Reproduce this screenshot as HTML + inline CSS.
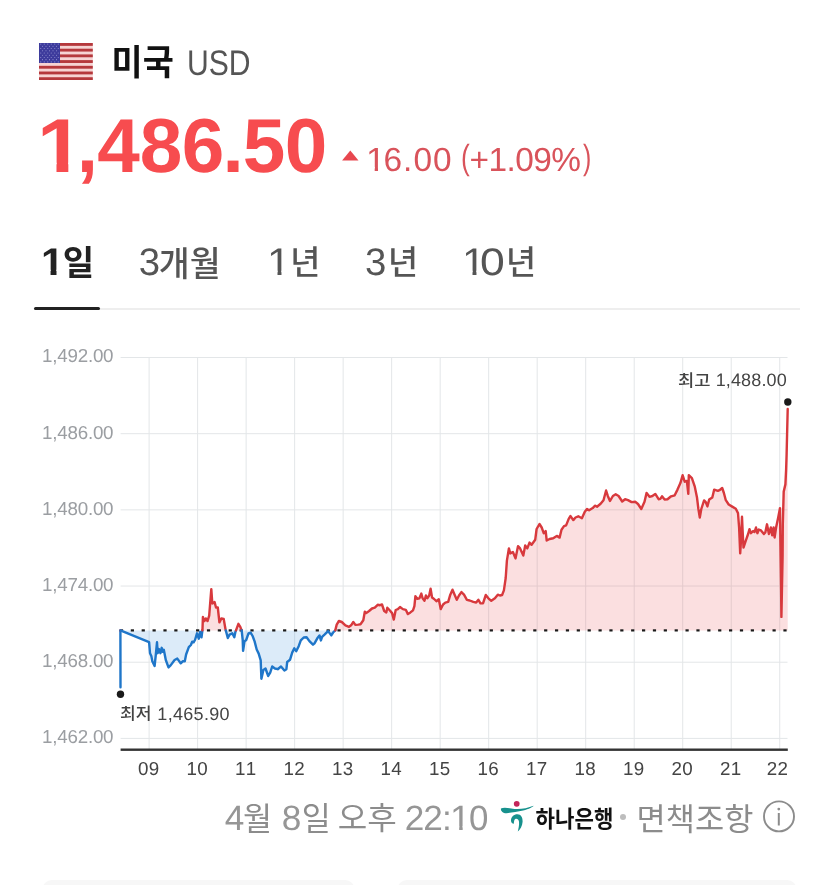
<!DOCTYPE html>
<html lang="ko"><head><meta charset="utf-8"><title>USD</title>
<style>
html,body{margin:0;padding:0;background:#fff}
body{width:835px;height:885px;position:relative;overflow:hidden;font-family:"Liberation Sans",sans-serif}
.abs{position:absolute;display:block}
.t{position:absolute;white-space:nowrap;line-height:1;text-rendering:geometricPrecision;font-kerning:none;transform-origin:0 50%;font-family:"Liberation Sans",sans-serif}
.xl{text-align:center}
.k{color:transparent;overflow:hidden}
#root{position:absolute;left:0;top:0;width:835px;height:885px;will-change:transform}
</style></head><body><div id="root">
<svg class="abs" style="left:39.4px;top:42.5px" width="53.8" height="37.1" viewBox="0 0 53.8 37.1"><rect width="53.8" height="37.1" fill="#f6d3d3"/><rect y="0.000" width="53.8" height="2.854" fill="#b5383c"/><rect y="5.708" width="53.8" height="2.854" fill="#b5383c"/><rect y="11.415" width="53.8" height="2.854" fill="#b5383c"/><rect y="17.123" width="53.8" height="2.854" fill="#b5383c"/><rect y="22.831" width="53.8" height="2.854" fill="#b5383c"/><rect y="28.538" width="53.8" height="2.854" fill="#b5383c"/><rect y="34.246" width="53.8" height="2.854" fill="#b5383c"/><rect width="21" height="19.977" fill="#3d3b9c"/><circle cx="1.75" cy="1.10" r="0.55" fill="#8f8fd0"/><circle cx="5.25" cy="1.10" r="0.55" fill="#8f8fd0"/><circle cx="8.75" cy="1.10" r="0.55" fill="#8f8fd0"/><circle cx="12.25" cy="1.10" r="0.55" fill="#8f8fd0"/><circle cx="15.75" cy="1.10" r="0.55" fill="#8f8fd0"/><circle cx="19.25" cy="1.10" r="0.55" fill="#8f8fd0"/><circle cx="3.50" cy="3.32" r="0.55" fill="#8f8fd0"/><circle cx="7.00" cy="3.32" r="0.55" fill="#8f8fd0"/><circle cx="10.50" cy="3.32" r="0.55" fill="#8f8fd0"/><circle cx="14.00" cy="3.32" r="0.55" fill="#8f8fd0"/><circle cx="17.50" cy="3.32" r="0.55" fill="#8f8fd0"/><circle cx="1.75" cy="5.54" r="0.55" fill="#8f8fd0"/><circle cx="5.25" cy="5.54" r="0.55" fill="#8f8fd0"/><circle cx="8.75" cy="5.54" r="0.55" fill="#8f8fd0"/><circle cx="12.25" cy="5.54" r="0.55" fill="#8f8fd0"/><circle cx="15.75" cy="5.54" r="0.55" fill="#8f8fd0"/><circle cx="19.25" cy="5.54" r="0.55" fill="#8f8fd0"/><circle cx="3.50" cy="7.77" r="0.55" fill="#8f8fd0"/><circle cx="7.00" cy="7.77" r="0.55" fill="#8f8fd0"/><circle cx="10.50" cy="7.77" r="0.55" fill="#8f8fd0"/><circle cx="14.00" cy="7.77" r="0.55" fill="#8f8fd0"/><circle cx="17.50" cy="7.77" r="0.55" fill="#8f8fd0"/><circle cx="1.75" cy="9.99" r="0.55" fill="#8f8fd0"/><circle cx="5.25" cy="9.99" r="0.55" fill="#8f8fd0"/><circle cx="8.75" cy="9.99" r="0.55" fill="#8f8fd0"/><circle cx="12.25" cy="9.99" r="0.55" fill="#8f8fd0"/><circle cx="15.75" cy="9.99" r="0.55" fill="#8f8fd0"/><circle cx="19.25" cy="9.99" r="0.55" fill="#8f8fd0"/><circle cx="3.50" cy="12.21" r="0.55" fill="#8f8fd0"/><circle cx="7.00" cy="12.21" r="0.55" fill="#8f8fd0"/><circle cx="10.50" cy="12.21" r="0.55" fill="#8f8fd0"/><circle cx="14.00" cy="12.21" r="0.55" fill="#8f8fd0"/><circle cx="17.50" cy="12.21" r="0.55" fill="#8f8fd0"/><circle cx="1.75" cy="14.43" r="0.55" fill="#8f8fd0"/><circle cx="5.25" cy="14.43" r="0.55" fill="#8f8fd0"/><circle cx="8.75" cy="14.43" r="0.55" fill="#8f8fd0"/><circle cx="12.25" cy="14.43" r="0.55" fill="#8f8fd0"/><circle cx="15.75" cy="14.43" r="0.55" fill="#8f8fd0"/><circle cx="19.25" cy="14.43" r="0.55" fill="#8f8fd0"/><circle cx="3.50" cy="16.65" r="0.55" fill="#8f8fd0"/><circle cx="7.00" cy="16.65" r="0.55" fill="#8f8fd0"/><circle cx="10.50" cy="16.65" r="0.55" fill="#8f8fd0"/><circle cx="14.00" cy="16.65" r="0.55" fill="#8f8fd0"/><circle cx="17.50" cy="16.65" r="0.55" fill="#8f8fd0"/><circle cx="1.75" cy="18.88" r="0.55" fill="#8f8fd0"/><circle cx="5.25" cy="18.88" r="0.55" fill="#8f8fd0"/><circle cx="8.75" cy="18.88" r="0.55" fill="#8f8fd0"/><circle cx="12.25" cy="18.88" r="0.55" fill="#8f8fd0"/><circle cx="15.75" cy="18.88" r="0.55" fill="#8f8fd0"/><circle cx="19.25" cy="18.88" r="0.55" fill="#8f8fd0"/></svg>
<div class="t" style="left:187.27px;top:46.00px;font-size:35.6px;color:#555;font-weight:400;transform:scaleX(0.8471);">USD</div>
<div class="t" style="left:36.58px;top:109.00px;font-size:76.5px;color:#f74c4f;font-weight:700;clip-path:polygon(0 0,29.08px 0,29.08px 53.80px,28.48px 53.80px,28.48px 100%,17.72px 100%,17.72px 53.80px,0 53.80px);transform:scaleX(1.1000);">1</div>
<div class="t" style="left:76.64px;top:109.00px;font-size:76.5px;color:#f74c4f;font-weight:700;">,</div>
<div class="t" style="left:97.30px;top:109.00px;font-size:76.5px;color:#f74c4f;font-weight:700;">4</div>
<div class="t" style="left:139.64px;top:109.00px;font-size:76.5px;color:#f74c4f;font-weight:700;">8</div>
<div class="t" style="left:181.86px;top:109.00px;font-size:76.5px;color:#f74c4f;font-weight:700;">6</div>
<div class="t" style="left:222.51px;top:109.00px;font-size:76.5px;color:#f74c4f;font-weight:700;">.</div>
<div class="t" style="left:242.82px;top:109.00px;font-size:76.5px;color:#f74c4f;font-weight:700;">5</div>
<div class="t" style="left:284.63px;top:109.00px;font-size:76.5px;color:#f74c4f;font-weight:700;">0</div>
<svg class="abs" style="left:342px;top:150px" width="17" height="11" viewBox="0 0 17 11"><path d="M8.3 0.4 L16.5 10.5 L0.1 10.5 Z" fill="#e8474f"/></svg>
<div class="t" style="left:366.08px;top:144.00px;font-size:33.4px;color:#d9535b;font-weight:400;clip-path:polygon(0 0,12.06px 0,12.06px 23.10px,11.46px 23.10px,11.46px 100%,8.28px 100%,8.28px 23.10px,0 23.10px);transform:scaleX(1.0500);">1</div>
<div class="t" style="left:383.40px;top:144.00px;font-size:33.4px;color:#d9535b;font-weight:400;letter-spacing:1.098px;">6.00</div>
<div class="t" style="left:460.76px;top:140.00px;font-size:35px;color:#d9535b;font-weight:400;transform:scaleX(0.7543);">(</div>
<div class="t" style="left:469.57px;top:144.00px;font-size:33.4px;color:#d9535b;font-weight:400;letter-spacing:-0.558px;">+1.09%</div>
<div class="t" style="left:582.55px;top:140.00px;font-size:35px;color:#d9535b;font-weight:400;transform:scaleX(0.7112);">)</div>
<div class="t" style="left:40.61px;top:244.00px;font-size:38.4px;color:#222;font-weight:700;clip-path:polygon(0 0,14.95px 0,14.95px 25.68px,14.35px 25.68px,14.35px 100%,8.85px 100%,8.85px 25.68px,0 25.68px);transform:scaleX(1.0800);">1</div>
<div class="t" style="left:138.64px;top:244.00px;font-size:38.4px;color:#555;font-weight:400;">3</div>
<div class="t" style="left:266.74px;top:244.00px;font-size:38.4px;color:#555;font-weight:400;clip-path:polygon(0 0,13.76px 0,13.76px 26.72px,13.16px 26.72px,13.16px 100%,9.54px 100%,9.54px 26.72px,0 26.72px);transform:scaleX(1.1000);">1</div>
<div class="t" style="left:364.94px;top:244.00px;font-size:38.4px;color:#555;font-weight:400;">3</div>
<div class="t" style="left:461.94px;top:244.00px;font-size:38.4px;color:#555;font-weight:400;clip-path:polygon(0 0,13.76px 0,13.76px 26.72px,13.16px 26.72px,13.16px 100%,9.54px 100%,9.54px 26.72px,0 26.72px);transform:scaleX(1.1000);">1</div>
<div class="t" style="left:479.86px;top:244.00px;font-size:38.4px;color:#555;font-weight:400;transform:scaleX(1.1604);">0</div>
<div class="abs" style="left:34px;top:307.9px;width:766px;height:2px;background:#eeeeee"></div>
<div class="abs" style="left:34.4px;top:307.2px;width:65.4px;height:3px;background:#222;border-radius:1.5px"></div>
<div class="t" style="left:42.07px;top:347.00px;font-size:18.75px;color:#9b9ea2;font-weight:400;letter-spacing:-0.218px;">1,492.00</div>
<div class="t" style="left:42.07px;top:424.00px;font-size:18.75px;color:#9b9ea2;font-weight:400;letter-spacing:-0.218px;">1,486.00</div>
<div class="t" style="left:42.07px;top:500.00px;font-size:18.75px;color:#9b9ea2;font-weight:400;letter-spacing:-0.218px;">1,480.00</div>
<div class="t" style="left:42.07px;top:576.00px;font-size:18.75px;color:#9b9ea2;font-weight:400;letter-spacing:-0.218px;">1,474.00</div>
<div class="t" style="left:42.07px;top:652.00px;font-size:18.75px;color:#9b9ea2;font-weight:400;letter-spacing:-0.218px;">1,468.00</div>
<div class="t" style="left:42.07px;top:728.00px;font-size:18.75px;color:#9b9ea2;font-weight:400;letter-spacing:-0.218px;">1,462.00</div>
<div class="t xl" style="left:128.50px;top:760.00px;width:40px;font-size:18.75px;color:#444;letter-spacing:0.35px;text-indent:0.35px">09</div>
<div class="t xl" style="left:177.01px;top:760.00px;width:40px;font-size:18.75px;color:#444;letter-spacing:0.35px;text-indent:0.35px">10</div>
<div class="t xl" style="left:225.52px;top:760.00px;width:40px;font-size:18.75px;color:#444;letter-spacing:0.35px;text-indent:0.35px">11</div>
<div class="t xl" style="left:274.03px;top:760.00px;width:40px;font-size:18.75px;color:#444;letter-spacing:0.35px;text-indent:0.35px">12</div>
<div class="t xl" style="left:322.54px;top:760.00px;width:40px;font-size:18.75px;color:#444;letter-spacing:0.35px;text-indent:0.35px">13</div>
<div class="t xl" style="left:371.05px;top:760.00px;width:40px;font-size:18.75px;color:#444;letter-spacing:0.35px;text-indent:0.35px">14</div>
<div class="t xl" style="left:419.56px;top:760.00px;width:40px;font-size:18.75px;color:#444;letter-spacing:0.35px;text-indent:0.35px">15</div>
<div class="t xl" style="left:468.07px;top:760.00px;width:40px;font-size:18.75px;color:#444;letter-spacing:0.35px;text-indent:0.35px">16</div>
<div class="t xl" style="left:516.58px;top:760.00px;width:40px;font-size:18.75px;color:#444;letter-spacing:0.35px;text-indent:0.35px">17</div>
<div class="t xl" style="left:565.09px;top:760.00px;width:40px;font-size:18.75px;color:#444;letter-spacing:0.35px;text-indent:0.35px">18</div>
<div class="t xl" style="left:613.60px;top:760.00px;width:40px;font-size:18.75px;color:#444;letter-spacing:0.35px;text-indent:0.35px">19</div>
<div class="t xl" style="left:662.11px;top:760.00px;width:40px;font-size:18.75px;color:#444;letter-spacing:0.35px;text-indent:0.35px">20</div>
<div class="t xl" style="left:710.62px;top:760.00px;width:40px;font-size:18.75px;color:#444;letter-spacing:0.35px;text-indent:0.35px">21</div>
<div class="t xl" style="left:757.40px;top:760.00px;width:40px;font-size:18.75px;color:#444;letter-spacing:0.35px;text-indent:0.35px">22</div>
<svg class="abs" style="left:0;top:0" width="835" height="885" viewBox="0 0 835 885"><rect x="120.6" y="357.00" width="666.9" height="1" fill="#e3e6e8"/><rect x="120.6" y="433.18" width="666.9" height="1" fill="#e3e6e8"/><rect x="120.6" y="509.36" width="666.9" height="1" fill="#e3e6e8"/><rect x="120.6" y="585.54" width="666.9" height="1" fill="#e3e6e8"/><rect x="120.6" y="661.72" width="666.9" height="1" fill="#e3e6e8"/><rect x="120.6" y="737.90" width="666.9" height="1" fill="#e3e6e8"/><rect x="148.60" y="357.50" width="1" height="391.50" fill="#e3e6e8"/><rect x="197.11" y="357.50" width="1" height="391.50" fill="#e3e6e8"/><rect x="245.62" y="357.50" width="1" height="391.50" fill="#e3e6e8"/><rect x="294.13" y="357.50" width="1" height="391.50" fill="#e3e6e8"/><rect x="342.64" y="357.50" width="1" height="391.50" fill="#e3e6e8"/><rect x="391.15" y="357.50" width="1" height="391.50" fill="#e3e6e8"/><rect x="439.66" y="357.50" width="1" height="391.50" fill="#e3e6e8"/><rect x="488.17" y="357.50" width="1" height="391.50" fill="#e3e6e8"/><rect x="536.68" y="357.50" width="1" height="391.50" fill="#e3e6e8"/><rect x="585.19" y="357.50" width="1" height="391.50" fill="#e3e6e8"/><rect x="633.70" y="357.50" width="1" height="391.50" fill="#e3e6e8"/><rect x="682.21" y="357.50" width="1" height="391.50" fill="#e3e6e8"/><rect x="730.72" y="357.50" width="1" height="391.50" fill="#e3e6e8"/><rect x="779.23" y="357.50" width="1" height="391.50" fill="#e3e6e8"/><path d="M120.5 687.3 L120.4 630.4 L120.4 630.4 L120.5 630.4 Z" fill="#2f86dc" fill-opacity="0.17"/><path d="M120.4 630.4 L120.4 630.4 L120.4 630.4 L120.4 630.4 L120.4 630.4 Z" fill="#e8404a" fill-opacity="0.17"/><path d="M120.4 630.4 L149.1 642.1 L150.0 653.2 L151.3 655.9 L152.3 661.3 L154.6 666.0 L155.7 655.9 L157.0 642.3 L157.7 653.2 L159.0 649.1 L160.4 653.2 L161.7 647.8 L162.7 651.8 L163.8 649.8 L165.8 660.0 L168.5 667.4 L170.6 665.4 L174.6 660.0 L177.3 658.6 L180.7 663.3 L182.7 661.3 L184.8 661.3 L186.1 654.5 L188.8 647.1 L190.9 645.0 L192.2 641.7 L193.6 642.3 L195.0 640.0 L197.0 633.3 L198.8 638.7 L200.1 631.9 L201.5 637.3 L202.4 630.4 L202.4 630.4 L120.4 630.4 Z" fill="#2f86dc" fill-opacity="0.17"/><path d="M202.4 630.4 L202.5 629.2 L202.9 617.0 L204.5 621.1 L205.8 618.4 L207.5 621.1 L209.2 615.7 L211.3 589.2 L212.3 603.5 L214.6 602.1 L216.0 607.5 L217.8 607.5 L219.4 622.4 L221.4 618.4 L223.7 619.0 L225.5 629.2 L225.8 630.4 L225.8 630.4 L202.4 630.4 Z" fill="#e8404a" fill-opacity="0.17"/><path d="M225.8 630.4 L227.8 638.0 L229.6 634.6 L232.3 633.3 L234.3 637.3 L235.4 631.9 L236.0 630.4 L236.0 630.4 L225.8 630.4 Z" fill="#2f86dc" fill-opacity="0.17"/><path d="M236.0 630.4 L238.4 623.8 L240.4 627.2 L241.6 630.4 L241.6 630.4 L236.0 630.4 Z" fill="#e8404a" fill-opacity="0.17"/><path d="M241.6 630.4 L241.7 630.6 L242.7 640.0 L243.1 650.9 L244.5 641.4 L246.2 640.0 L248.5 633.3 L250.6 632.6 L252.6 636.0 L254.6 641.4 L256.7 649.5 L258.7 653.6 L260.7 660.4 L261.4 678.7 L263.4 669.9 L265.5 668.5 L268.2 676.0 L270.2 672.6 L272.2 666.5 L274.9 668.5 L277.7 669.2 L281.0 666.5 L284.4 670.5 L286.4 669.2 L287.2 662.0 L290.0 659.8 L292.2 652.6 L294.3 648.3 L296.2 651.2 L298.7 646.2 L300.8 640.4 L303.7 637.5 L306.6 637.3 L309.4 641.1 L313.0 644.7 L314.5 643.3 L317.3 638.3 L319.5 635.4 L320.9 640.4 L322.1 636.8 L324.5 634.7 L328.1 631.1 L331.3 635.4 L333.1 632.5 L335.3 630.4 L335.3 630.4 L241.6 630.4 Z" fill="#2f86dc" fill-opacity="0.17"/><path d="M335.3 630.4 L335.3 630.4 L336.7 624.6 L338.9 621.0 L341.8 622.0 L345.4 625.3 L349.0 626.8 L351.1 625.3 L353.3 622.0 L355.4 624.9 L358.3 624.6 L360.5 624.3 L363.3 620.3 L364.8 611.7 L366.2 613.1 L369.1 611.0 L372.0 608.5 L374.8 607.7 L377.7 604.8 L379.9 605.2 L382.0 604.5 L384.2 611.0 L386.3 612.4 L387.3 607.7 L389.9 610.5 L392.1 613.1 L393.8 619.6 L395.7 610.0 L397.9 609.1 L400.0 607.0 L402.9 609.1 L405.8 609.8 L407.9 614.1 L410.1 612.7 L413.0 610.3 L414.4 606.2 L415.4 596.2 L417.3 598.8 L419.4 598.3 L421.3 593.6 L422.6 598.3 L424.5 600.8 L425.9 595.5 L427.3 598.3 L429.2 595.5 L430.6 588.7 L432.1 597.6 L434.1 599.0 L436.4 601.2 L438.8 599.3 L440.7 609.1 L443.1 604.5 L445.3 602.6 L448.2 601.9 L450.3 594.7 L452.5 589.7 L454.6 594.7 L456.8 599.8 L459.0 595.5 L461.4 592.1 L464.0 594.7 L466.9 599.8 L469.7 600.5 L473.3 601.9 L476.2 602.6 L478.4 599.8 L480.5 603.4 L483.0 603.4 L485.8 595.0 L488.4 598.3 L491.3 600.8 L494.9 598.3 L497.8 594.7 L499.9 595.5 L502.1 595.0 L503.9 590.4 L505.7 578.0 L506.9 560.6 L508.9 548.4 L510.3 553.4 L512.9 552.0 L515.5 558.4 L518.0 546.2 L520.1 548.4 L523.3 555.6 L525.2 545.5 L527.3 548.4 L529.5 542.6 L531.6 544.8 L535.2 539.8 L536.6 529.0 L539.5 524.0 L541.7 527.5 L543.8 533.3 L545.7 531.1 L546.7 540.5 L549.6 539.0 L553.2 538.3 L556.8 535.9 L559.6 537.6 L561.5 529.7 L564.0 526.1 L566.1 525.4 L568.7 518.9 L570.4 516.0 L573.3 520.1 L575.5 517.5 L578.3 516.3 L581.9 518.2 L584.8 511.7 L587.0 508.9 L589.1 510.3 L592.7 508.1 L594.9 505.7 L597.0 506.7 L600.6 503.8 L603.5 500.2 L606.1 490.5 L607.8 495.9 L610.0 501.0 L612.9 496.0 L615.7 494.3 L618.6 496.0 L622.2 501.5 L625.1 499.2 L628.0 500.1 L631.6 502.1 L635.2 501.8 L638.0 504.0 L641.3 509.0 L644.5 501.8 L646.6 492.9 L649.5 496.8 L652.4 496.0 L655.3 493.9 L658.6 499.2 L660.3 498.9 L662.0 496.3 L664.6 499.6 L667.5 499.2 L671.1 496.3 L674.7 495.3 L677.5 489.6 L680.4 483.1 L682.6 475.2 L684.7 481.7 L686.9 481.0 L688.3 493.9 L688.8 475.2 L691.9 478.1 L694.8 486.7 L697.0 497.5 L698.4 509.0 L699.8 517.6 L701.3 509.0 L704.1 500.4 L705.6 501.8 L707.4 506.4 L709.2 499.6 L712.3 497.5 L714.2 489.6 L717.9 490.8 L720.0 489.8 L722.2 488.0 L723.9 493.0 L725.8 500.2 L728.7 504.5 L732.2 506.6 L735.8 508.8 L738.0 513.1 L739.1 527.5 L740.2 553.4 L740.9 541.9 L742.0 516.7 L742.6 530.4 L743.5 547.6 L745.9 540.4 L748.1 534.0 L749.5 529.2 L750.9 533.2 L753.1 531.1 L754.5 532.1 L756.0 527.5 L757.4 533.2 L758.8 529.6 L761.0 530.4 L763.9 534.0 L765.3 532.5 L767.0 524.3 L768.9 534.0 L770.8 527.5 L772.2 535.4 L773.6 527.5 L774.6 537.5 L776.1 527.5 L778.2 517.4 L780.0 508.1 L780.4 541.9 L781.1 590.0 L781.4 616.9 L782.6 556.2 L782.8 524.6 L783.7 491.6 L785.4 484.4 L786.1 470.0 L786.6 454.8 L787.7 409.0 L787.7 630.4 L335.3 630.4 Z" fill="#e8404a" fill-opacity="0.17"/><rect x="119.90" y="629.30" width="3.2" height="2.2" fill="#1a1a1a"/><rect x="130.78" y="629.30" width="3.2" height="2.2" fill="#1a1a1a"/><rect x="141.65" y="629.30" width="3.2" height="2.2" fill="#1a1a1a"/><rect x="152.53" y="629.30" width="3.2" height="2.2" fill="#1a1a1a"/><rect x="163.41" y="629.30" width="3.2" height="2.2" fill="#1a1a1a"/><rect x="174.28" y="629.30" width="3.2" height="2.2" fill="#1a1a1a"/><rect x="185.16" y="629.30" width="3.2" height="2.2" fill="#1a1a1a"/><rect x="196.04" y="629.30" width="3.2" height="2.2" fill="#1a1a1a"/><rect x="206.92" y="629.30" width="3.2" height="2.2" fill="#1a1a1a"/><rect x="217.79" y="629.30" width="3.2" height="2.2" fill="#1a1a1a"/><rect x="228.67" y="629.30" width="3.2" height="2.2" fill="#1a1a1a"/><rect x="239.55" y="629.30" width="3.2" height="2.2" fill="#1a1a1a"/><rect x="250.42" y="629.30" width="3.2" height="2.2" fill="#1a1a1a"/><rect x="261.30" y="629.30" width="3.2" height="2.2" fill="#1a1a1a"/><rect x="272.18" y="629.30" width="3.2" height="2.2" fill="#1a1a1a"/><rect x="283.05" y="629.30" width="3.2" height="2.2" fill="#1a1a1a"/><rect x="293.93" y="629.30" width="3.2" height="2.2" fill="#1a1a1a"/><rect x="304.81" y="629.30" width="3.2" height="2.2" fill="#1a1a1a"/><rect x="315.69" y="629.30" width="3.2" height="2.2" fill="#1a1a1a"/><rect x="326.56" y="629.30" width="3.2" height="2.2" fill="#1a1a1a"/><rect x="337.44" y="629.30" width="3.2" height="2.2" fill="#1a1a1a"/><rect x="348.32" y="629.30" width="3.2" height="2.2" fill="#1a1a1a"/><rect x="359.19" y="629.30" width="3.2" height="2.2" fill="#1a1a1a"/><rect x="370.07" y="629.30" width="3.2" height="2.2" fill="#1a1a1a"/><rect x="380.95" y="629.30" width="3.2" height="2.2" fill="#1a1a1a"/><rect x="391.82" y="629.30" width="3.2" height="2.2" fill="#1a1a1a"/><rect x="402.70" y="629.30" width="3.2" height="2.2" fill="#1a1a1a"/><rect x="413.58" y="629.30" width="3.2" height="2.2" fill="#1a1a1a"/><rect x="424.46" y="629.30" width="3.2" height="2.2" fill="#1a1a1a"/><rect x="435.33" y="629.30" width="3.2" height="2.2" fill="#1a1a1a"/><rect x="446.21" y="629.30" width="3.2" height="2.2" fill="#1a1a1a"/><rect x="457.09" y="629.30" width="3.2" height="2.2" fill="#1a1a1a"/><rect x="467.96" y="629.30" width="3.2" height="2.2" fill="#1a1a1a"/><rect x="478.84" y="629.30" width="3.2" height="2.2" fill="#1a1a1a"/><rect x="489.72" y="629.30" width="3.2" height="2.2" fill="#1a1a1a"/><rect x="500.60" y="629.30" width="3.2" height="2.2" fill="#1a1a1a"/><rect x="511.47" y="629.30" width="3.2" height="2.2" fill="#1a1a1a"/><rect x="522.35" y="629.30" width="3.2" height="2.2" fill="#1a1a1a"/><rect x="533.23" y="629.30" width="3.2" height="2.2" fill="#1a1a1a"/><rect x="544.10" y="629.30" width="3.2" height="2.2" fill="#1a1a1a"/><rect x="554.98" y="629.30" width="3.2" height="2.2" fill="#1a1a1a"/><rect x="565.86" y="629.30" width="3.2" height="2.2" fill="#1a1a1a"/><rect x="576.73" y="629.30" width="3.2" height="2.2" fill="#1a1a1a"/><rect x="587.61" y="629.30" width="3.2" height="2.2" fill="#1a1a1a"/><rect x="598.49" y="629.30" width="3.2" height="2.2" fill="#1a1a1a"/><rect x="609.37" y="629.30" width="3.2" height="2.2" fill="#1a1a1a"/><rect x="620.24" y="629.30" width="3.2" height="2.2" fill="#1a1a1a"/><rect x="631.12" y="629.30" width="3.2" height="2.2" fill="#1a1a1a"/><rect x="642.00" y="629.30" width="3.2" height="2.2" fill="#1a1a1a"/><rect x="652.87" y="629.30" width="3.2" height="2.2" fill="#1a1a1a"/><rect x="663.75" y="629.30" width="3.2" height="2.2" fill="#1a1a1a"/><rect x="674.63" y="629.30" width="3.2" height="2.2" fill="#1a1a1a"/><rect x="685.50" y="629.30" width="3.2" height="2.2" fill="#1a1a1a"/><rect x="696.38" y="629.30" width="3.2" height="2.2" fill="#1a1a1a"/><rect x="707.26" y="629.30" width="3.2" height="2.2" fill="#1a1a1a"/><rect x="718.13" y="629.30" width="3.2" height="2.2" fill="#1a1a1a"/><rect x="729.01" y="629.30" width="3.2" height="2.2" fill="#1a1a1a"/><rect x="739.89" y="629.30" width="3.2" height="2.2" fill="#1a1a1a"/><rect x="750.77" y="629.30" width="3.2" height="2.2" fill="#1a1a1a"/><rect x="761.64" y="629.30" width="3.2" height="2.2" fill="#1a1a1a"/><rect x="772.52" y="629.30" width="3.2" height="2.2" fill="#1a1a1a"/><rect x="783.40" y="629.30" width="3.2" height="2.2" fill="#1a1a1a"/><path d="M120.5 687.3 L120.4 630.4" fill="none" stroke="#1f76c9" stroke-width="2.4" stroke-linejoin="round" stroke-linecap="round"/><path d="M120.4 630.4 L120.4 630.4 L120.4 630.4" fill="none" stroke="#d8393d" stroke-width="2.4" stroke-linejoin="round" stroke-linecap="round"/><path d="M120.4 630.4 L149.1 642.1 L150.0 653.2 L151.3 655.9 L152.3 661.3 L154.6 666.0 L155.7 655.9 L157.0 642.3 L157.7 653.2 L159.0 649.1 L160.4 653.2 L161.7 647.8 L162.7 651.8 L163.8 649.8 L165.8 660.0 L168.5 667.4 L170.6 665.4 L174.6 660.0 L177.3 658.6 L180.7 663.3 L182.7 661.3 L184.8 661.3 L186.1 654.5 L188.8 647.1 L190.9 645.0 L192.2 641.7 L193.6 642.3 L195.0 640.0 L197.0 633.3 L198.8 638.7 L200.1 631.9 L201.5 637.3 L202.4 630.4" fill="none" stroke="#1f76c9" stroke-width="2.4" stroke-linejoin="round" stroke-linecap="round"/><path d="M202.4 630.4 L202.5 629.2 L202.9 617.0 L204.5 621.1 L205.8 618.4 L207.5 621.1 L209.2 615.7 L211.3 589.2 L212.3 603.5 L214.6 602.1 L216.0 607.5 L217.8 607.5 L219.4 622.4 L221.4 618.4 L223.7 619.0 L225.5 629.2 L225.8 630.4" fill="none" stroke="#d8393d" stroke-width="2.4" stroke-linejoin="round" stroke-linecap="round"/><path d="M225.8 630.4 L227.8 638.0 L229.6 634.6 L232.3 633.3 L234.3 637.3 L235.4 631.9 L236.0 630.4" fill="none" stroke="#1f76c9" stroke-width="2.4" stroke-linejoin="round" stroke-linecap="round"/><path d="M236.0 630.4 L238.4 623.8 L240.4 627.2 L241.6 630.4" fill="none" stroke="#d8393d" stroke-width="2.4" stroke-linejoin="round" stroke-linecap="round"/><path d="M241.6 630.4 L241.7 630.6 L242.7 640.0 L243.1 650.9 L244.5 641.4 L246.2 640.0 L248.5 633.3 L250.6 632.6 L252.6 636.0 L254.6 641.4 L256.7 649.5 L258.7 653.6 L260.7 660.4 L261.4 678.7 L263.4 669.9 L265.5 668.5 L268.2 676.0 L270.2 672.6 L272.2 666.5 L274.9 668.5 L277.7 669.2 L281.0 666.5 L284.4 670.5 L286.4 669.2 L287.2 662.0 L290.0 659.8 L292.2 652.6 L294.3 648.3 L296.2 651.2 L298.7 646.2 L300.8 640.4 L303.7 637.5 L306.6 637.3 L309.4 641.1 L313.0 644.7 L314.5 643.3 L317.3 638.3 L319.5 635.4 L320.9 640.4 L322.1 636.8 L324.5 634.7 L328.1 631.1 L331.3 635.4 L333.1 632.5 L335.3 630.4" fill="none" stroke="#1f76c9" stroke-width="2.4" stroke-linejoin="round" stroke-linecap="round"/><path d="M335.3 630.4 L335.3 630.4 L336.7 624.6 L338.9 621.0 L341.8 622.0 L345.4 625.3 L349.0 626.8 L351.1 625.3 L353.3 622.0 L355.4 624.9 L358.3 624.6 L360.5 624.3 L363.3 620.3 L364.8 611.7 L366.2 613.1 L369.1 611.0 L372.0 608.5 L374.8 607.7 L377.7 604.8 L379.9 605.2 L382.0 604.5 L384.2 611.0 L386.3 612.4 L387.3 607.7 L389.9 610.5 L392.1 613.1 L393.8 619.6 L395.7 610.0 L397.9 609.1 L400.0 607.0 L402.9 609.1 L405.8 609.8 L407.9 614.1 L410.1 612.7 L413.0 610.3 L414.4 606.2 L415.4 596.2 L417.3 598.8 L419.4 598.3 L421.3 593.6 L422.6 598.3 L424.5 600.8 L425.9 595.5 L427.3 598.3 L429.2 595.5 L430.6 588.7 L432.1 597.6 L434.1 599.0 L436.4 601.2 L438.8 599.3 L440.7 609.1 L443.1 604.5 L445.3 602.6 L448.2 601.9 L450.3 594.7 L452.5 589.7 L454.6 594.7 L456.8 599.8 L459.0 595.5 L461.4 592.1 L464.0 594.7 L466.9 599.8 L469.7 600.5 L473.3 601.9 L476.2 602.6 L478.4 599.8 L480.5 603.4 L483.0 603.4 L485.8 595.0 L488.4 598.3 L491.3 600.8 L494.9 598.3 L497.8 594.7 L499.9 595.5 L502.1 595.0 L503.9 590.4 L505.7 578.0 L506.9 560.6 L508.9 548.4 L510.3 553.4 L512.9 552.0 L515.5 558.4 L518.0 546.2 L520.1 548.4 L523.3 555.6 L525.2 545.5 L527.3 548.4 L529.5 542.6 L531.6 544.8 L535.2 539.8 L536.6 529.0 L539.5 524.0 L541.7 527.5 L543.8 533.3 L545.7 531.1 L546.7 540.5 L549.6 539.0 L553.2 538.3 L556.8 535.9 L559.6 537.6 L561.5 529.7 L564.0 526.1 L566.1 525.4 L568.7 518.9 L570.4 516.0 L573.3 520.1 L575.5 517.5 L578.3 516.3 L581.9 518.2 L584.8 511.7 L587.0 508.9 L589.1 510.3 L592.7 508.1 L594.9 505.7 L597.0 506.7 L600.6 503.8 L603.5 500.2 L606.1 490.5 L607.8 495.9 L610.0 501.0 L612.9 496.0 L615.7 494.3 L618.6 496.0 L622.2 501.5 L625.1 499.2 L628.0 500.1 L631.6 502.1 L635.2 501.8 L638.0 504.0 L641.3 509.0 L644.5 501.8 L646.6 492.9 L649.5 496.8 L652.4 496.0 L655.3 493.9 L658.6 499.2 L660.3 498.9 L662.0 496.3 L664.6 499.6 L667.5 499.2 L671.1 496.3 L674.7 495.3 L677.5 489.6 L680.4 483.1 L682.6 475.2 L684.7 481.7 L686.9 481.0 L688.3 493.9 L688.8 475.2 L691.9 478.1 L694.8 486.7 L697.0 497.5 L698.4 509.0 L699.8 517.6 L701.3 509.0 L704.1 500.4 L705.6 501.8 L707.4 506.4 L709.2 499.6 L712.3 497.5 L714.2 489.6 L717.9 490.8 L720.0 489.8 L722.2 488.0 L723.9 493.0 L725.8 500.2 L728.7 504.5 L732.2 506.6 L735.8 508.8 L738.0 513.1 L739.1 527.5 L740.2 553.4 L740.9 541.9 L742.0 516.7 L742.6 530.4 L743.5 547.6 L745.9 540.4 L748.1 534.0 L749.5 529.2 L750.9 533.2 L753.1 531.1 L754.5 532.1 L756.0 527.5 L757.4 533.2 L758.8 529.6 L761.0 530.4 L763.9 534.0 L765.3 532.5 L767.0 524.3 L768.9 534.0 L770.8 527.5 L772.2 535.4 L773.6 527.5 L774.6 537.5 L776.1 527.5 L778.2 517.4 L780.0 508.1 L780.4 541.9 L781.1 590.0 L781.4 616.9 L782.6 556.2 L782.8 524.6 L783.7 491.6 L785.4 484.4 L786.1 470.0 L786.6 454.8 L787.7 409.0" fill="none" stroke="#d8393d" stroke-width="2.4" stroke-linejoin="round" stroke-linecap="round"/><rect x="120.6" y="748.5" width="667.2" height="2.4" fill="#333"/><circle cx="120.5" cy="694.3" r="3.7" fill="#1a1a1a"/><circle cx="787.8" cy="402" r="3.7" fill="#1a1a1a"/></svg>
<div class="t" style="left:715.63px;top:371.00px;font-size:18.0px;color:#444;font-weight:400;letter-spacing:0.158px;">1,488.00</div>
<div class="t" style="left:157.33px;top:705.00px;font-size:18.0px;color:#444;font-weight:400;letter-spacing:0.301px;">1,465.90</div>
<div class="t" style="left:224.79px;top:801.00px;font-size:35.2px;color:#969696;font-weight:400;">4</div>
<div class="t" style="left:281.87px;top:801.00px;font-size:35.2px;color:#969696;font-weight:400;">8</div>
<div class="t" style="left:404.83px;top:801.00px;font-size:35.2px;color:#969696;font-weight:400;letter-spacing:-1.024px;">22:</div>
<div class="t" style="left:449.73px;top:801.00px;font-size:35.2px;color:#969696;font-weight:400;clip-path:polygon(0 0,12.67px 0,12.67px 24.96px,12.07px 24.96px,12.07px 100%,8.74px 100%,8.74px 24.96px,0 24.96px);transform:scaleX(1.0500);">1</div>
<div class="t" style="left:469.34px;top:801.00px;font-size:35.2px;color:#969696;font-weight:400;transform:scaleX(0.9925);">0</div>
<svg class="abs" style="left:493px;top:793px" width="60" height="50" viewBox="0 0 835 696">
<circle cx="330" cy="150" r="40" fill="#c3265b"/>
<path d="M110 215 C150 195 230 210 300 222 C380 232 480 210 565 178 C560 190 500 225 420 245 C340 265 250 275 190 282 C140 285 105 250 110 215 Z" fill="#17918d"/>
<path d="M250 385 C250 330 290 295 340 295 C390 295 415 340 412 400 C408 460 380 510 345 537 C352 500 368 450 362 400 C358 365 330 352 310 362 C292 372 292 400 290 428 C270 425 252 410 250 385 Z" fill="#17918d"/>
</svg>
<div class="abs" style="left:620.2px;top:814.2px;width:6px;height:6px;border-radius:50%;background:#bdbdbd"></div>
<svg class="abs" style="left:762px;top:799px" width="35" height="35" viewBox="0 0 35 35">
<circle cx="17" cy="17.4" r="15" fill="none" stroke="#8c8c8c" stroke-width="1.9"/>
<circle cx="16.8" cy="10.1" r="1.4" fill="#8c8c8c"/>
<rect x="15.8" y="14" width="2" height="12.5" fill="#8c8c8c"/>
</svg>
<div class="abs" style="left:42px;top:879.5px;width:313px;height:20px;border-radius:10px;background:#f7f7f7"></div>
<div class="abs" style="left:397px;top:879.5px;width:400px;height:20px;border-radius:10px;background:#f7f7f7"></div>
<svg class="abs" style="left:0;top:0" width="835" height="885" viewBox="0 0 835 885" role="img" font-family="&quot;Liberation Sans&quot;, &quot;Noto Sans CJK KR&quot;, sans-serif">
<text x="111.6" y="75.2" font-size="34.7" font-weight="700" fill="#111" textLength="62.2" lengthAdjust="spacingAndGlyphs">미국</text>
<text x="62.8" y="275.2" font-size="34.2" font-weight="700" fill="#222">일</text>
<text x="158.8" y="275.6" font-size="34.5" font-weight="500" fill="#555" textLength="61.9" lengthAdjust="spacingAndGlyphs">개월</text>
<text x="290.3" y="274.3" font-size="32.8" font-weight="500" fill="#555">년</text>
<text x="388.1" y="274.3" font-size="32.8" font-weight="500" fill="#555">년</text>
<text x="506.1" y="274.3" font-size="32.8" font-weight="500" fill="#555">년</text>
<text x="678" y="385.5" font-size="16" font-weight="500" fill="#444" textLength="32.5" lengthAdjust="spacingAndGlyphs">최고</text>
<text x="120" y="718.9" font-size="16.3" font-weight="500" fill="#444" textLength="31.6" lengthAdjust="spacingAndGlyphs">최저</text>
<text x="243.1" y="830" font-size="31.6" font-weight="400" fill="#8c8c8c">월</text>
<text x="301.7" y="829.9" font-size="31.5" font-weight="400" fill="#8c8c8c">일</text>
<text x="337.8" y="829.4" font-size="31" font-weight="400" fill="#8c8c8c" textLength="59" lengthAdjust="spacingAndGlyphs">오후</text>
<text x="535.6" y="827" font-size="23" font-weight="700" fill="#111" textLength="77.8" lengthAdjust="spacingAndGlyphs">하나은행</text>
<text x="636.6" y="829.6" font-size="31.2" font-weight="400" fill="#8c8c8c" textLength="116.8" lengthAdjust="spacingAndGlyphs">면책조항</text>
</svg>
</div></body></html>
